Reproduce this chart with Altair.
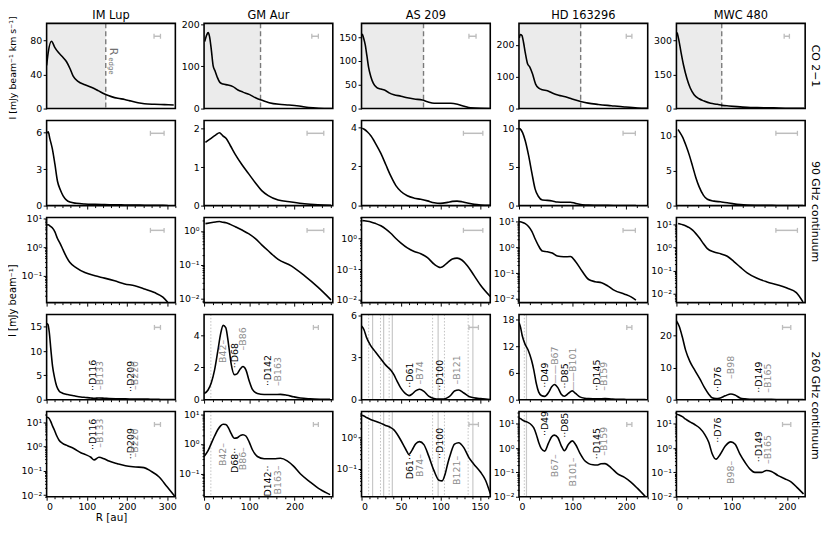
import altair as alt
import pandas as pd

FONT = "DejaVu Sans"
W, H = 130, 86
ROW_SP, COL_SP = 12, 28.5
WV = W + COL_SP - ROW_SP  # view width incl. extra gap on the right
GRAY_TXT = "#8c8c8c"

names = ["IM Lup", "GM Aur", "AS 209", "HD 163296", "MWC 480"]
x_max = [320, 285, 163, 240, 233]
x_major = [[0, 100, 200, 300], [0, 100, 200], [0, 50, 100, 150], [0, 100, 200], [0, 100, 200]]
x_minor_step = [20, 20, 10, 20, 20]
r_edge = [147, 125, 78.5, 115, 82]

# ---- CO 2-1 radial profiles ----
co_r_imlup = [0, 4, 12, 20.6, 29, 41, 49.5, 58, 66, 78, 95, 111, 128, 144, 161, 177, 194, 210, 227, 243, 268, 293, 316]
co_I_imlup = [50.7, 66, 79, 71.6, 66, 60, 55, 47, 38, 32, 28, 25, 21, 17, 14, 12, 10.7, 8.8, 6.9, 5.7, 5.0, 4.6, 4.2]
co_r_gmaur = [1.5, 6, 9, 12, 16, 20, 24, 29, 35, 42, 53, 64, 75, 86, 101, 115, 130, 144, 166, 188, 210, 232, 254, 283]
co_I_gmaur = [159, 175, 180, 171, 140, 102, 90, 75, 62, 58, 56, 52, 44, 39, 33, 25, 19, 14, 10, 8.4, 6, 2.3, 0.8, 0.2]
co_r_as209 = [0.8, 2.5, 4.6, 6.8, 8.9, 11.8, 15, 19.4, 24.5, 30.8, 35, 41, 50, 58, 66.7, 77, 83.5, 92, 100, 113, 121.5, 130, 138, 151, 163]
co_I_as209 = [157, 149, 135, 111, 87, 67, 53, 44, 41, 37.5, 33, 29, 26, 22.5, 20, 18, 14.3, 11, 11, 11, 9, 4.8, 1.4, 0.3, 0.1]
co_r_hd = [0.6, 2.5, 5.5, 8.6, 11.7, 16, 20, 25, 31, 37, 43.6, 53, 62, 74, 86.5, 99, 115, 129, 148, 172, 197, 221, 239]
co_I_hd = [222, 233, 230, 207, 176, 141, 131, 110, 77, 64, 59, 56, 49, 42, 37, 30, 22.4, 17, 13, 9, 5, 2, 1]
co_r_mwc = [1.2, 4.2, 8.4, 13, 19, 25, 32, 41, 50, 62, 74, 83, 95, 110, 128, 146, 176, 205, 231]
co_I_mwc = [334, 303, 246, 189, 132, 90, 61, 43, 33, 23, 18.5, 14, 11.4, 8.5, 5.7, 4.3, 2.8, 1.4, 1.2]

# ---- 90 GHz continuum ----
b90_r_imlup = [0, 4, 8, 14, 20.6, 27, 34, 41, 49.5, 58, 74, 95, 120, 144, 169, 194, 219, 243, 268, 289, 301]
b90_I_imlup = [5.95, 6.06, 5.5, 4.7, 3.4, 2.0, 1.3, 0.8, 0.45, 0.29, 0.19, 0.13, 0.10, 0.083, 0.067, 0.052, 0.045, 0.035, 0.026, 0.018, 0.012]
b90_r_gmaur = [3, 14.6, 25.5, 34, 41.6, 49, 58, 69, 84, 98.5, 113, 127.6, 142, 164, 193, 222, 252, 281]
b90_I_gmaur = [1.64, 1.74, 1.83, 1.89, 1.81, 1.74, 1.56, 1.33, 1.06, 0.83, 0.6, 0.39, 0.26, 0.145, 0.093, 0.048, 0.022, 0.0093]
b90_r_as209 = [1, 3.4, 7.6, 11.8, 18, 24.5, 30.8, 37, 43.5, 50, 58, 66.7, 75, 83.5, 92, 100, 109, 115, 121, 127, 134, 142.6, 151, 163]
b90_I_as209 = [3.95, 3.89, 3.75, 3.56, 3.15, 2.66, 2.08, 1.51, 1.02, 0.72, 0.5, 0.38, 0.32, 0.24, 0.145, 0.113, 0.164, 0.215, 0.23, 0.2, 0.13, 0.061, 0.029, 0.0126]
b90_r_hd = [0, 1.8, 6.7, 11.7, 17.8, 24, 30, 36, 43.6, 53, 62, 71.5, 83.4, 96, 105, 117.8, 130, 142, 154, 166, 178, 197, 209, 218]
b90_I_hd = [10.0, 9.96, 9.46, 8.4, 6.54, 4.25, 2.17, 1.21, 0.72, 0.68, 0.6, 0.46, 0.43, 0.44, 0.29, 0.117, 0.056, 0.046, 0.042, 0.031, 0.021, 0.015, 0.0117, 0.0087]
b90_r_mwc = [3, 5.4, 11.4, 17.3, 23.3, 29.3, 35.2, 41, 49, 56, 68, 80, 92, 104, 116, 128, 146, 164, 182, 200, 217, 229]
b90_I_mwc = [10.9, 10.6, 9.77, 8.6, 7.23, 5.62, 4.0, 2.72, 1.47, 0.9, 0.64, 0.54, 0.42, 0.25, 0.14, 0.081, 0.047, 0.033, 0.025, 0.018, 0.0113, 0.0045]

# ---- 260 GHz continuum ----
b260_r_imlup = [0, 3.3, 6.6, 10.7, 14.9, 19.8, 24.8, 31, 39.6, 52, 68.5, 85, 97, 110, 118, 130, 143, 155, 176, 196, 221, 242, 258, 279, 299.5, 318]
b260_I_imlup = [15.7, 15.5, 13.9, 10.2, 6.8, 4.5, 2.8, 1.8, 1.34, 1.07, 0.8, 0.55, 0.46, 0.36, 0.28, 0.36, 0.31, 0.25, 0.195, 0.16, 0.144, 0.135, 0.099, 0.057, 0.022, 0.0092]
b260_r_gmaur = [0, 8.8, 16, 23.3, 30.6, 36.5, 42.3, 48, 54, 59.8, 67, 73, 80, 86, 92.6, 100, 107, 118, 133, 155, 169, 184, 198, 213, 235, 257, 279]
b260_I_gmaur = [0.38, 0.6, 1.05, 1.85, 3.05, 4.06, 4.6, 4.46, 3.46, 2.25, 1.55, 1.6, 1.9, 2.05, 1.85, 1.15, 0.64, 0.38, 0.32, 0.32, 0.33, 0.27, 0.18, 0.1, 0.053, 0.03, 0.02]
b260_r_as209 = [0, 3, 6.3, 11.4, 17.7, 24, 30.4, 36.7, 41, 45, 49.4, 53.6, 57, 60, 64, 68.4, 73.4, 79, 85, 91.6, 98, 102, 106, 109.5, 112.7, 117.7, 123, 129.5, 136, 142, 150.6, 157, 163]
b260_I_as209 = [5.25, 5.0, 4.44, 3.87, 3.4, 2.94, 2.48, 2.13, 1.78, 1.32, 0.86, 0.55, 0.38, 0.29, 0.4, 0.63, 0.75, 0.6, 0.26, 0.089, 0.043, 0.041, 0.07, 0.16, 0.30, 0.62, 0.69, 0.48, 0.23, 0.144, 0.079, 0.043, 0.016]
b260_r_hd = [0, 3, 6, 11, 17.2, 23.3, 27.6, 32, 36.8, 41.7, 47.9, 55, 61, 66, 72.4, 78.5, 84.7, 92, 99.4, 105.5, 113.5, 122.7, 130, 138, 145, 153, 160.5, 171.8, 184, 196, 208.6, 221, 236]
b260_I_hd = [17.3, 16.2, 14.4, 12.55, 11.1, 8.9, 6.7, 3.8, 1.7, 0.95, 0.75, 1.6, 2.9, 3.4, 2.7, 1.3, 0.78, 1.4, 1.97, 1.4, 0.62, 0.3, 0.23, 0.205, 0.2, 0.225, 0.23, 0.155, 0.087, 0.064, 0.04, 0.022, 0.01]
b260_r_mwc = [0, 4.8, 10.8, 16.7, 24.5, 32.9, 42.4, 50.8, 58.5, 64.5, 71.7, 79.4, 88.4, 98.6, 106.3, 115, 124, 133, 142, 154, 163, 172, 184, 196, 208, 220, 230]
b260_I_mwc = [24.6, 23, 19.5, 15.4, 11.9, 9.3, 6.5, 3.76, 1.73, 0.6, 0.35, 0.56, 1.22, 1.8, 1.42, 0.56, 0.26, 0.138, 0.1, 0.1, 0.12, 0.11, 0.074, 0.055, 0.04, 0.022, 0.013]

# ---- axis ranges and ticks ----
co_ymax = [100, 202, 179, 268, 374]
co_ticks = [[0, 40, 80], [0, 100, 200], [0, 50, 100, 150], [0, 100, 200], [0, 150, 300]]
b90_ymax = [7.0, 2.21, 4.34, 11.04, 12.2]
b90_ticks = [[0, 3, 6], [0, 1, 2], [0, 2, 4], [0, 5, 10], [0, 5, 10]]
b90_logmin = [0.0116, 0.0077, 0.0079, 0.007, 0.0042]
b90_logmax = [10.8, 2.49, 5.0, 14.7, 19.9]
b90_logticks = [[0.1, 1, 10], [0.01, 0.1, 1], [0.01, 0.1, 1], [0.01, 0.1, 1, 10], [0.01, 0.1, 1, 10]]
b260_ymax = [17.55, 5.27, 6.07, 19.1, 26.6]
b260_ticks = [[0, 5, 10, 15], [0, 2, 4], [0, 3, 6], [0, 6, 12, 18], [0, 10, 20]]
b260_logmin = [0.0086, 0.017, 0.0127, 0.01, 0.01]
b260_logmax = [27, 12.2, 6.9, 31.5, 31.6]
b260_logticks = [[0.01, 0.1, 1, 10], [0.1, 1, 10], [0.1, 1], [0.01, 0.1, 1, 10], [0.01, 0.1, 1, 10]]

# ---- beam sizes (FWHM bars, au) ----
beam_co_lo = [267, 238.5, 136, 200, 195]
beam_co_hi = [283, 253, 145, 210.5, 204.5]
beam_90_lo = [258, 228, 129, 194, 180]
beam_90_hi = [292, 265, 153.6, 217, 219]
beam_260_lo = [268, 242, 136, 201, 192]
beam_260_hi = [283, 253, 148, 210.5, 207]

# ---- extra gap/ring markers (vertical lines) ----
vsolid = [[], [], [14, 28, 39, 97, 141], [14], []]
vdot = [[], [15], [9, 24, 35, 90, 105, 135], [10], []]

# ---- gap (D) / ring (B) annotations ----
lab_t_imlup = ["D116", "B133", "D209", "B220"]
lab_r_imlup = [116, 133, 209, 220]
lab_y4_imlup = [1.8, 2.0, 1.6, 2.0]
lab_y5_imlup = [0.72, 0.89, 0.30, 0.35]
lab_dn4_imlup = [0, 0, 0, 0]
lab_dn5_imlup = [0, 0, 0, 0]

lab_t_gmaur = ["B42", "D68", "B86", "D142", "B163"]
lab_r_gmaur = [42, 68, 86, 142, 163]
lab_y4_gmaur = [3.7, 1.95, 3.05, 0.84, 0.84]
lab_y5_gmaur = [1.08, 0.74, 0.78, 0.19, 0.19]
lab_dn4_gmaur = [1, 0, 0, 0, 0]
lab_dn5_gmaur = [1, 1, 1, 1, 1]

lab_t_as209 = ["D61", "B74", "D100", "B121"]
lab_r_as209 = [61, 74, 100, 121]
lab_y4_as209 = [0.86, 1.09, 0.63, 1.09]
lab_y5_as209 = [0.30, 0.30, 0.207, 0.26]
lab_dn4_as209 = [0, 0, 0, 0]
lab_dn5_as209 = [1, 1, 0, 1]

lab_t_hd = ["D49", "B67", "D85", "B101", "D145", "B159"]
lab_r_hd = [49, 67, 85, 101, 145, 159]
lab_y4_hd = [2.7, 3.6, 2.5, 2.0, 2.0, 2.0]
lab_y5_hd = [3.1, 0.56, 2.63, 0.41, 0.35, 0.48]
lab_dn4_hd = [0, 0, 0, 0, 0, 0]
lab_dn5_hd = [0, 1, 0, 1, 0, 0]
lab_lead4_hd = [1, 2, 1, 2, 1, 1]

lab_t_mwc = ["D76", "B98", "D149", "B165"]
lab_r_mwc = [76, 98, 149, 165]
lab_y4_mwc = [2.44, 6.5, 2.2, 2.2]
lab_y5_mwc = [1.66, 0.30, 0.26, 0.22]
lab_dn4_mwc = [0, 0, 0, 0]
lab_dn5_mwc = [0, 1, 0, 0]

row_labels = ["CO 2\u22121", "90 GHz continuum", "260 GHz continuum"]
ytitle_co = "I [mJy beam\u207b\u00b9 km s\u207b\u00b9]"
ytitle_cont = "I [mJy beam\u207b\u00b9]"

co_r = [co_r_imlup, co_r_gmaur, co_r_as209, co_r_hd, co_r_mwc]
co_I = [co_I_imlup, co_I_gmaur, co_I_as209, co_I_hd, co_I_mwc]
b90_r = [b90_r_imlup, b90_r_gmaur, b90_r_as209, b90_r_hd, b90_r_mwc]
b90_I = [b90_I_imlup, b90_I_gmaur, b90_I_as209, b90_I_hd, b90_I_mwc]
b260_r = [b260_r_imlup, b260_r_gmaur, b260_r_as209, b260_r_hd, b260_r_mwc]
b260_I = [b260_I_imlup, b260_I_gmaur, b260_I_as209, b260_I_hd, b260_I_mwc]
lab_t = [lab_t_imlup, lab_t_gmaur, lab_t_as209, lab_t_hd, lab_t_mwc]
lab_r = [lab_r_imlup, lab_r_gmaur, lab_r_as209, lab_r_hd, lab_r_mwc]
lab_y4 = [lab_y4_imlup, lab_y4_gmaur, lab_y4_as209, lab_y4_hd, lab_y4_mwc]
lab_y5 = [lab_y5_imlup, lab_y5_gmaur, lab_y5_as209, lab_y5_hd, lab_y5_mwc]
lab_dn4 = [lab_dn4_imlup, lab_dn4_gmaur, lab_dn4_as209, lab_dn4_hd, lab_dn4_mwc]
lab_dn5 = [lab_dn5_imlup, lab_dn5_gmaur, lab_dn5_as209, lab_dn5_hd, lab_dn5_mwc]

LOG_EXPR = ("datum.value > 5 ? '10\u00b9' : datum.value > 0.5 ? '10\u2070' : "
            "datum.value > 0.05 ? '10\u207b\u00b9' : '10\u207b\u00b2'")


def log_minor(lo, hi):
    out = []
    for k in range(-4, 3):
        for m in range(2, 10):
            v = m * 10.0 ** k
            if lo <= v <= hi:
                out.append(round(v, 8))
    return out


def lab_string(t, down, lead):
    if t.startswith("D"):
        return t + "\u00b7\u00b7" if down else "\u00b7\u00b7" + t
    mk = "\u2013" if lead == 1 else "\u2014\u2014"
    return t + mk if down else mk + t


def text_layer(txt, x, y, angle=0, size=11, color="black"):
    df = pd.DataFrame({"t": [txt]})
    return alt.Chart(df).mark_text(angle=angle, align="center", baseline="middle",
                                   font=FONT, fontSize=size, color=color).encode(
        x=x, y=y, text="t:N")


def panel(ci, ri):
    xsc = alt.Scale(domain=[0, x_max[ci]], range=[0, W], nice=False, zero=False)
    log = ri in (2, 4)
    if ri == 0:
        r, I = co_r[ci], co_I[ci]
        ysc = alt.Scale(domain=[0, co_ymax[ci]], nice=False, zero=False)
        yvals = co_ticks[ci]
        blo, bhi = beam_co_lo[ci], beam_co_hi[ci]
    elif ri == 1:
        r, I = b90_r[ci], b90_I[ci]
        ysc = alt.Scale(domain=[0, b90_ymax[ci]], nice=False, zero=False)
        yvals = b90_ticks[ci]
        blo, bhi = beam_90_lo[ci], beam_90_hi[ci]
    elif ri == 2:
        r, I = b90_r[ci], b90_I[ci]
        ylo, yhi = b90_logmin[ci], b90_logmax[ci]
        ysc = alt.Scale(type="log", domain=[ylo, yhi], nice=False)
        yvals = b90_logticks[ci]
        blo, bhi = beam_90_lo[ci], beam_90_hi[ci]
    elif ri == 3:
        r, I = b260_r[ci], b260_I[ci]
        ysc = alt.Scale(domain=[0, b260_ymax[ci]], nice=False, zero=False)
        yvals = b260_ticks[ci]
        blo, bhi = beam_260_lo[ci], beam_260_hi[ci]
    else:
        r, I = b260_r[ci], b260_I[ci]
        ylo, yhi = b260_logmin[ci], b260_logmax[ci]
        ysc = alt.Scale(type="log", domain=[ylo, yhi], nice=False)
        yvals = b260_logticks[ci]
        blo, bhi = beam_260_lo[ci], beam_260_hi[ci]

    if ri == 0:
        xaxis = alt.Axis(values=x_major[ci], ticks=False, labels=False, title=None)
    elif ri < 4:
        xaxis = alt.Axis(values=x_major[ci], labels=False, title=None)
    else:
        if ci == 0:
            xaxis = alt.Axis(values=x_major[ci], format="d", title="R [au]", titleX=W / 2)
        else:
            xaxis = alt.Axis(values=x_major[ci], format="d", title=None)
    if log:
        yaxis = alt.Axis(values=yvals, labelExpr=LOG_EXPR, title=None)
    else:
        yaxis = alt.Axis(values=yvals, format="d", title=None)

    # every layer carries the identical axis spec so the layer merges into one axis
    def X(f):
        return alt.X(f, scale=xsc, axis=xaxis)

    def Y(f):
        return alt.Y(f, scale=ysc, axis=yaxis)

    layers = []
    if ri == 0:
        sh = pd.DataFrame({"x0": [0], "x1": [r_edge[ci]]})
        layers.append(alt.Chart(sh).mark_rect(color="#ebebeb").encode(
            x=X("x0:Q"), x2="x1:Q", y=alt.value(0), y2=alt.value(H)))
        layers.append(alt.Chart(sh).mark_rule(color="#7a7a7a", strokeWidth=1.4, strokeDash=[5, 3]).encode(
            x=X("x1:Q"), y=alt.value(0), y2=alt.value(H)))
    if ri >= 3:
        if vsolid[ci]:
            layers.append(alt.Chart(pd.DataFrame({"v": vsolid[ci]})).mark_rule(
                color="#c8c8c8", strokeWidth=1.2).encode(x=X("v:Q"), y=alt.value(0), y2=alt.value(H)))
        if vdot[ci]:
            layers.append(alt.Chart(pd.DataFrame({"v": vdot[ci]})).mark_rule(
                color="#c0c0c0", strokeWidth=1, strokeDash=[1.5, 1.8]).encode(
                x=X("v:Q"), y=alt.value(0), y2=alt.value(H)))

    df = pd.DataFrame({"r": r, "I": I})
    layers.append(alt.Chart(df).mark_line(color="black", strokeWidth=1.6, clip=True,
                                          interpolate="monotone").encode(
        x=X("r:Q"), y=Y("I:Q")))

    # beam bar
    bdf = pd.DataFrame({"a": [blo], "b": [bhi]})
    layers.append(alt.Chart(bdf).mark_rule(color="#bdbdbd", strokeWidth=1.5).encode(
        x=X("a:Q"), x2="b:Q", y=alt.value(13)))
    cdf = pd.DataFrame({"c": [blo, bhi]})
    layers.append(alt.Chart(cdf).mark_rule(color="#bdbdbd", strokeWidth=1.3).encode(
        x=X("c:Q"), y=alt.value(10.5), y2=alt.value(15.5)))

    # gap / ring labels
    if ri >= 3:
        ys = lab_y4[ci] if ri == 3 else lab_y5[ci]
        dns = lab_dn4[ci] if ri == 3 else lab_dn5[ci]
        leads = lab_lead4_hd if (ri == 3 and ci == 3) else [1] * len(lab_t[ci])
        rows_up, rows_dn = [], []
        for t, rr, yy, dn, ld in zip(lab_t[ci], lab_r[ci], ys, dns, leads):
            rec = {"t": lab_string(t, dn, ld), "r": rr, "y": yy,
                   "c": "black" if t.startswith("D") else GRAY_TXT}
            (rows_dn if dn else rows_up).append(rec)
        for recs, al in ((rows_up, "left"), (rows_dn, "right")):
            if recs:
                layers.append(alt.Chart(pd.DataFrame(recs)).mark_text(
                    angle=270, align=al, baseline="middle", font=FONT, fontSize=9.5).encode(
                    x=X("r:Q"), y=Y("y:Q"), text="t:N", color=alt.Color("c:N", scale=None)))

    # titles and side labels
    if ri == 0:
        layers.append(text_layer(names[ci], alt.value(W / 2), alt.value(-7), size=11.5))
    if ci == 0 and ri == 0:
        layers.append(text_layer(ytitle_co, alt.value(-34), alt.value(H / 2 + 2), angle=270, size=9.5))
        redf = pd.DataFrame({"r": [164], "t": ["R"]})
        layers.append(alt.Chart(redf).mark_text(angle=90, align="center", baseline="middle",
                                                font=FONT, fontSize=11, color="#707070").encode(
            x=X("r:Q"), y=alt.value(28.5), text="t:N"))
        edf = pd.DataFrame({"r": [160.5], "t": ["edge"]})
        layers.append(alt.Chart(edf).mark_text(angle=90, align="center", baseline="middle",
                                               font=FONT, fontSize=7, color="#707070").encode(
            x=X("r:Q"), y=alt.value(43), text="t:N"))
    if ci == 0 and ri == 2:
        layers.append(text_layer(ytitle_cont, alt.value(-34), alt.value(H - 2), angle=270, size=10))
    if ci == 4 and ri == 0:
        layers.append(text_layer(row_labels[0], alt.value(W + 10), alt.value(H / 2), angle=90, size=11))
    if ci == 4 and ri == 1:
        layers.append(text_layer(row_labels[1], alt.value(W + 10), alt.value(H + ROW_SP / 2), angle=90, size=11))
    if ci == 4 and ri == 3:
        layers.append(text_layer(row_labels[2], alt.value(W + 10), alt.value(H + ROW_SP / 2), angle=90, size=11))

    # panel frame (spines), drawn on top
    fdf = pd.DataFrame({"k": [0]})
    layers.append(alt.Chart(fdf).mark_rect(filled=False, stroke="black", strokeWidth=1.6).encode(
        x=alt.value(0), x2=alt.value(W), y=alt.value(0), y2=alt.value(H)))

    content = alt.layer(*layers)
    if ri == 0:
        return content.properties(width=WV, height=H)

    minx = [v for v in range(0, int(x_max[ci]) + 1, x_minor_step[ci]) if v not in x_major[ci]]
    y0 = ylo if log else 0
    mdf = pd.DataFrame({"r": [0.0], "I": [y0]})
    ex = alt.X("r:Q", scale=xsc, axis=alt.Axis(values=minx, labels=False, ticks=True, tickSize=2,
                                                orient="bottom", title=None))
    if log:
        ey = alt.Y("I:Q", scale=ysc, axis=alt.Axis(values=log_minor(ylo, yhi), labels=False, ticks=True,
                                                    tickSize=2, orient="left", title=None))
    else:
        ey = alt.Y("I:Q", scale=ysc, axis=None)
    minor = alt.Chart(mdf).mark_point(opacity=0).encode(x=ex, y=ey)
    return alt.layer(content, minor).resolve_scale(x="independent", y="independent").properties(
        width=WV, height=H)


panels = []
for ri in range(5):
    for ci in range(5):
        panels.append(panel(ci, ri))

chart = alt.concat(*panels, columns=5, spacing=ROW_SP, bounds="flush").properties(
    padding={"left": 0, "top": 0, "right": 0, "bottom": 0}, background="white"
).configure_view(
    stroke=None
).configure_axis(
    labelFont=FONT, labelFontSize=9.5, labelColor="black", tickColor="black", tickWidth=1,
    tickSize=3.5, domain=False, grid=False, labelPadding=1.5, titleFont=FONT, titleFontSize=10.5,
    titleFontWeight="normal", titleColor="black", titlePadding=1
)

chart.save("out.html", embed_options={"renderer": "svg", "actions": False})
